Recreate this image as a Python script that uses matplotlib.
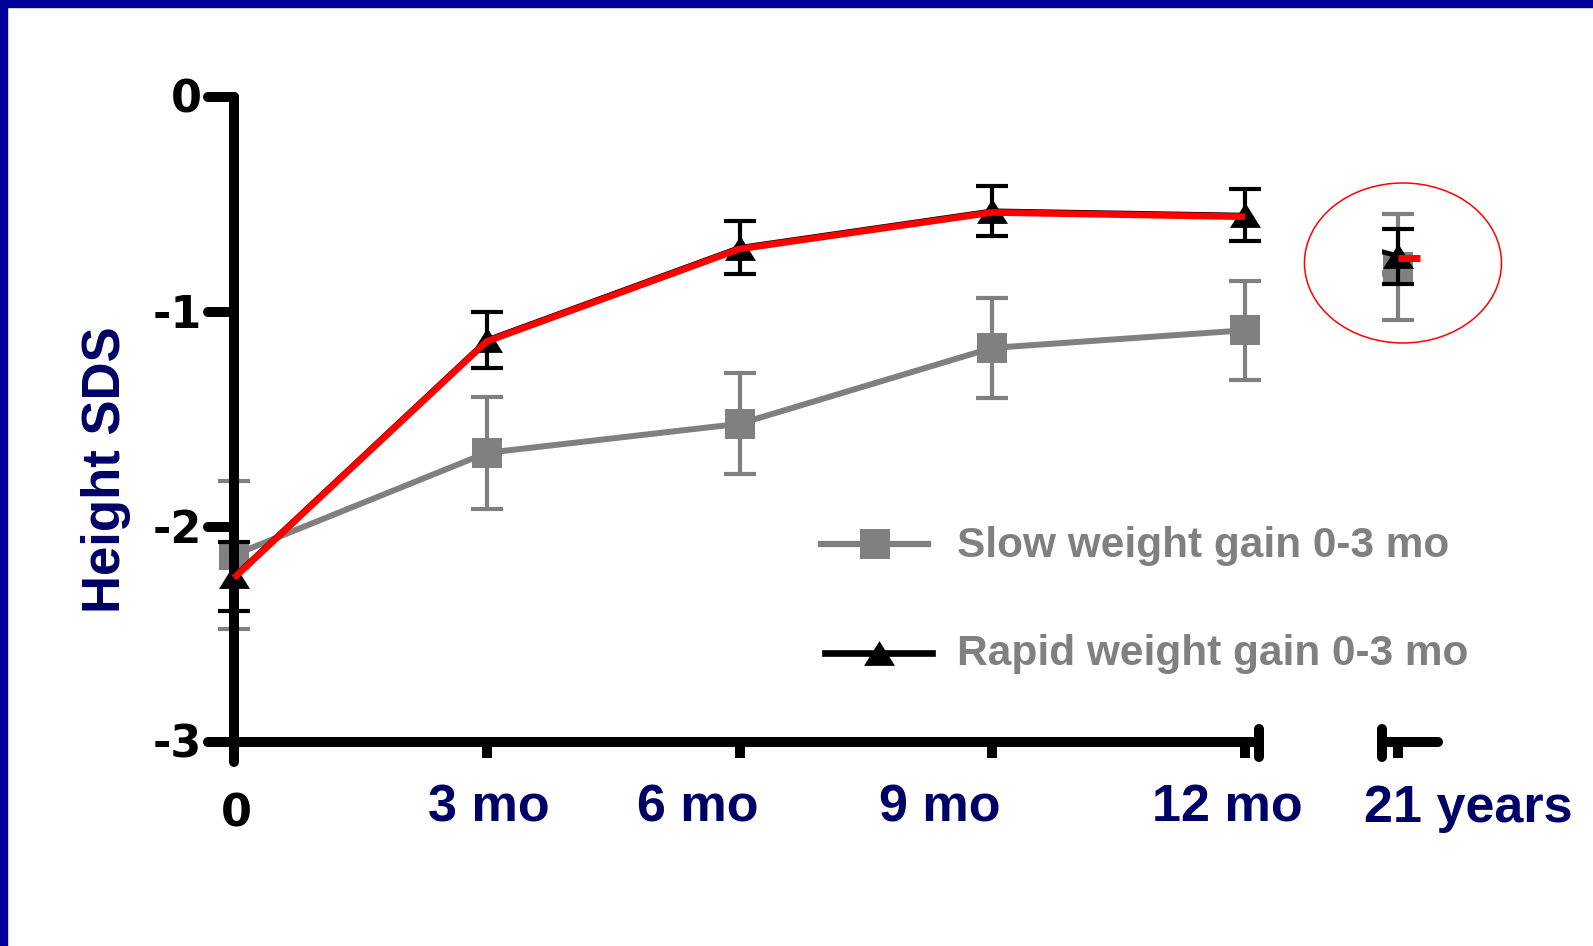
import matplotlib
matplotlib.use("Agg")
import matplotlib.pyplot as plt
from matplotlib.patches import Ellipse, Rectangle
from matplotlib.transforms import offset_copy

# visits (21 years sits after the axis break)
visit_labels = ["0", "3 mo", "6 mo", "9 mo", "12 mo", "21 years"]
visit_pos = [0, 3, 6, 9, 12, 13.82]

# height SDS, mean and error
slow_mean = [-2.13, -1.655, -1.52, -1.167, -1.085, -0.79]
slow_err = [0.344, 0.26, 0.234, 0.233, 0.23, 0.246]
rapid_mean = [-2.23, -1.13, -0.70, -0.53, -0.55, -0.74]
rapid_err = [0.16, 0.13, 0.123, 0.117, 0.12, 0.128]

y_ticks = [0, -1, -2, -3]
series_names = ["Slow weight gain 0-3 mo", "Rapid weight gain 0-3 mo"]

GREY = "#808080"
NAVY = "#000066"
BORDER = "#000099"
SANS = "Liberation Sans"

W, H = 1593, 946
fig = plt.figure(figsize=(W / 100, H / 100), dpi=100)
fig.patch.set_facecolor("white")

# plot area: x=0 at px 234, y=0 at px 97, y=-3 at px 742
ax = fig.add_axes([234 / W, (H - 742) / H, (1443 - 234) / W, (742 - 97) / H])
ax.set_xlim(0, 1209 / 84.25)
ax.set_ylim(-3, 0)
ax.axis("off")

# blue frame on top and left
fig.patches.append(Rectangle((0, 1 - 7 / H), 1, 7 / H, transform=fig.transFigure,
                             color=BORDER, zorder=10))
fig.patches.append(Rectangle((0, 0), 7 / W, 1, transform=fig.transFigure,
                             color=BORDER, zorder=10))

# axes drawn by hand (broken x axis)
axis_kw = dict(color="black", lw=7.2, solid_capstyle="round", clip_on=False, zorder=3)
tick_kw = dict(color="black", lw=7.2, solid_capstyle="butt", clip_on=False, zorder=3)
ax.plot([0, 0], [0, -3.093], **axis_kw)
for yt in y_ticks:
    ax.plot([-0.309, 0], [yt, yt], **axis_kw)
    ax.text(-0.38, yt - 0.074, f"{yt}", ha="right", va="baseline", fontsize=32,
            fontweight="bold", family="DejaVu Sans", color="black")
ax.plot([0, 12.17], [-3, -3], **axis_kw)
ax.plot([13.63, 14.29], [-3, -3], **axis_kw)
for xt in visit_pos[1:]:
    ax.plot([xt, xt], [-3, -3.074], **tick_kw)
for xb in [12.17, 13.63]:
    ax.plot([xb, xb], [-2.94, -3.07], **axis_kw)

# x labels
label_pos = [0.03, 3.03, 5.51, 8.38, 11.79, 14.65]
ax.text(label_pos[0], -3.395, visit_labels[0], ha="center", va="baseline",
        fontsize=32, fontweight="bold", family="DejaVu Sans", color="black")
for lx, lab in zip(label_pos[1:], visit_labels[1:]):
    ax.text(lx, -3.372, lab, ha="center", va="baseline", fontsize=37.5,
            fontweight="bold", family=SANS, color=NAVY)

ax.text(-1.52, -1.735, "Height SDS", rotation=90, ha="center", va="center",
        fontsize=38, fontweight="bold", family=SANS, color=NAVY)

# triangle marker a little wider than tall
tri = [(0, 0.8), (-1, -0.8), (1, -0.8)]

err_kw = dict(fmt="none", elinewidth=3, capsize=11.5, capthick=3, clip_on=False)
clip_gap = lambda: Rectangle((13.63, -4), 3, 5, transform=ax.transData)

# slow weight gain
ax.errorbar(visit_pos, slow_mean, yerr=slow_err, ecolor=GREY, zorder=2, **err_kw)
ax.plot(visit_pos[:5], slow_mean[:5], color=GREY, lw=4.3, marker="s", ms=21.6,
        mew=0, clip_on=False, zorder=2)
ax.plot(visit_pos[5:], slow_mean[5:], ls="none", color=GREY, marker="s", ms=21.6,
        mew=0, clip_on=False, zorder=2)
bridge, = ax.plot(visit_pos[4:], slow_mean[4:], color=GREY, lw=4.3, zorder=2)
bridge.set_clip_path(clip_gap())

# rapid weight gain
ax.errorbar(visit_pos, rapid_mean, yerr=rapid_err, ecolor="black", zorder=4, **err_kw)
ax.plot(visit_pos[:5], rapid_mean[:5], color="black", lw=3.6, marker=tri, ms=22.3,
        mew=0, clip_on=False, zorder=4)
ax.plot(visit_pos[5:], rapid_mean[5:], ls="none", color="black", marker=tri, ms=22.3,
        mew=0, clip_on=False, zorder=4)
bridge, = ax.plot(visit_pos[4:], rapid_mean[4:], color="black", lw=3.6, zorder=4)
bridge.set_clip_path(clip_gap())

# red highlight over the rapid group
red_tr = offset_copy(ax.transData, fig=fig, x=0, y=-1.5, units="dots")
ax.plot(visit_pos[:5], rapid_mean[:5], color="red", lw=4.8, transform=red_tr,
        solid_capstyle="butt", clip_on=False, zorder=5)
ax.plot([visit_pos[5], visit_pos[5] + 0.26], [rapid_mean[5], rapid_mean[5]],
        color="red", lw=5, transform=red_tr, solid_capstyle="butt",
        clip_on=False, zorder=5)
ax.add_patch(Ellipse((13.875, -0.772), 197 / 84.25, 160 / 215, fill=False,
                     ec="red", lw=1.1, clip_on=False, zorder=6))

# legend
ax.plot([6.97, 8.24], [-2.079, -2.079], color=GREY, lw=4.5, clip_on=False)
ax.plot([7.61], [-2.079], marker="s", ms=21.6, mew=0, color=GREY, clip_on=False)
ax.text(8.58, -2.140, series_names[0], ha="left", va="baseline", fontsize=30.5,
        fontweight="bold", family=SANS, color=GREY)
ax.plot([7.02, 8.29], [-2.586, -2.586], color="black", lw=4.8, clip_on=False)
ax.plot([7.66], [-2.586], marker=tri, ms=22.3, mew=0, color="black", clip_on=False)
ax.text(8.58, -2.642, series_names[1], ha="left", va="baseline", fontsize=30.5,
        fontweight="bold", family=SANS, color=GREY)

fig.savefig("out.png", dpi=100)
